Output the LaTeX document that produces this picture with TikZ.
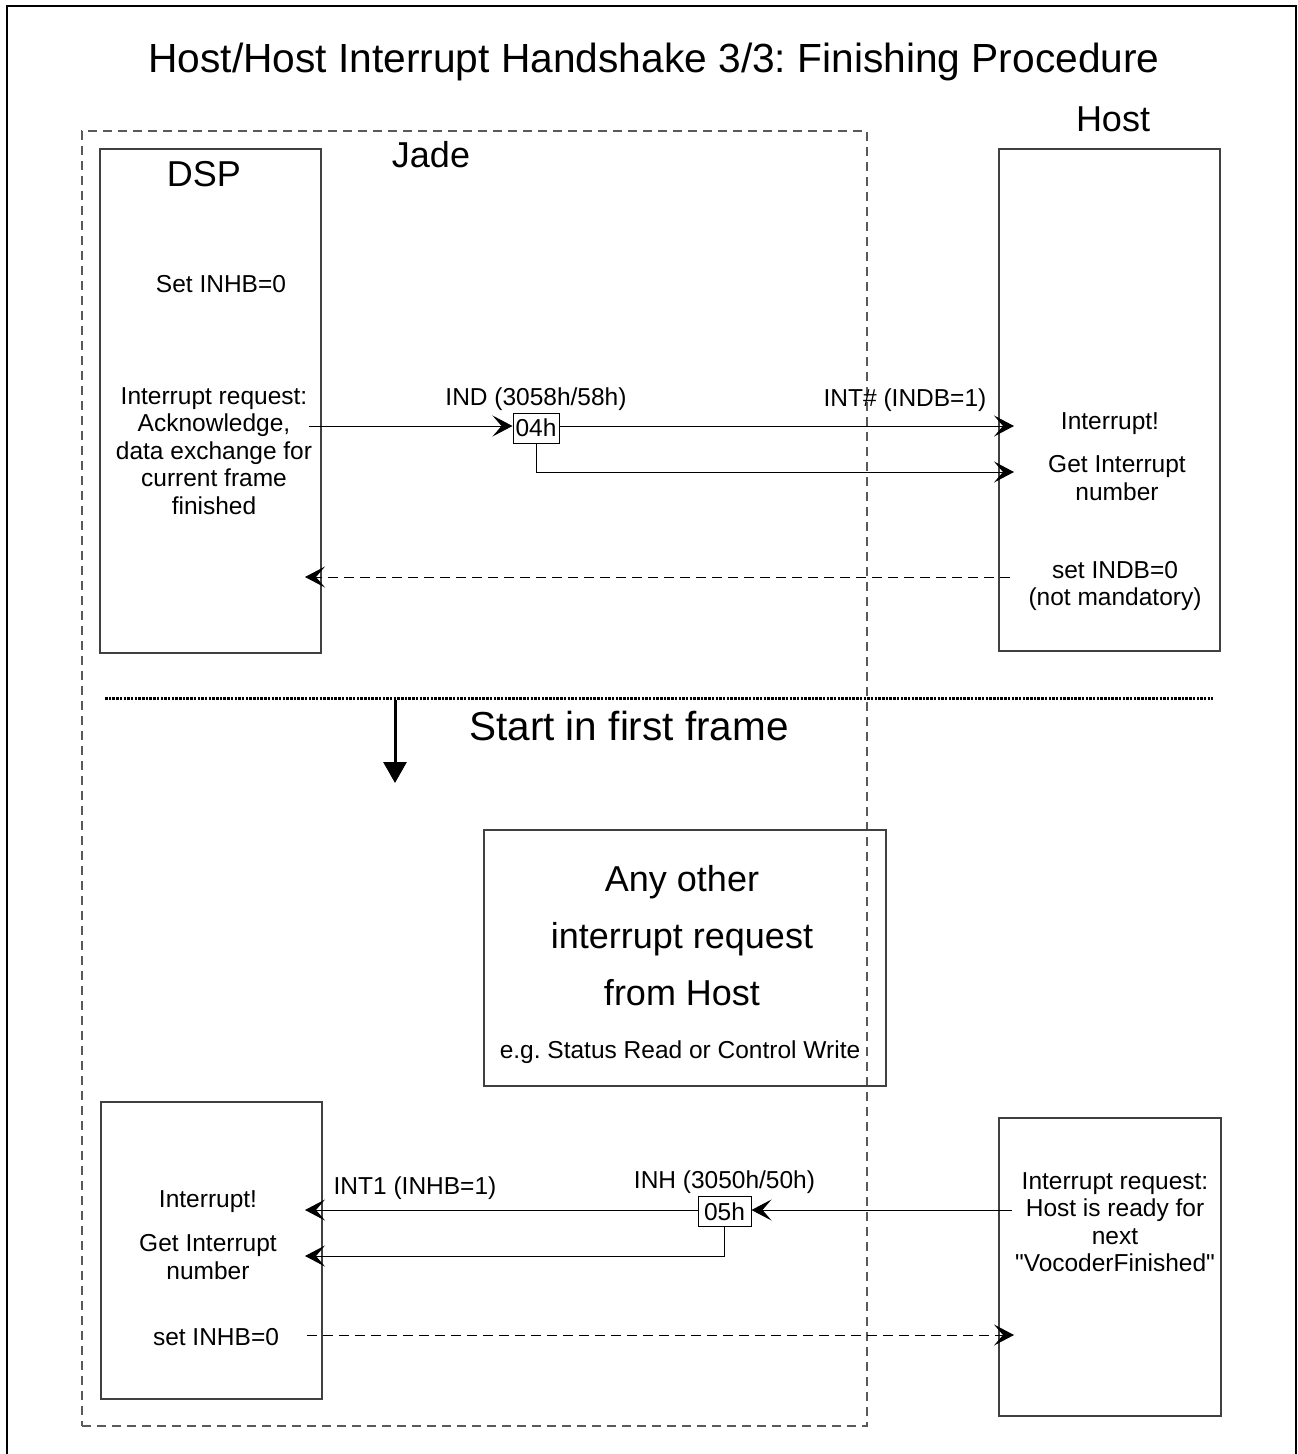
\documentclass[tikz,border=0pt]{standalone}
\usepackage{fontspec}
\setmainfont{Liberation Sans}
\newfontfamily\rawfont{Liberation Sans}
\usetikzlibrary{arrows.meta, positioning, calc}
\frenchspacing

\begin{document}
\begin{tikzpicture}[x=1pt, y=-1pt,
    unit/.style={draw=black!75, line width=1.3pt, inner sep=0pt},
    lbl/.style={font=\fontsize{24.5}{27.5}\selectfont, align=center, inner sep=0pt},
    big/.style={font=\fontsize{36}{40}\selectfont, inner sep=0pt},
    vec/.style={draw, line width=1pt, inner sep=0pt, minimum width=46pt,
                minimum height=30pt, font=\fontsize{24.5}{27.5}\selectfont},
    msg/.style={-{Stealth[length=20pt, width=21pt, inset=9pt]}, line width=1pt},
    reply/.style={msg, dash pattern=on 10pt off 6pt},
  ]
    \useasboundingbox (0,0) rectangle (1298,1454);
    \draw[line width=2.5pt] (7,1460) -- (7,6) -- (1296,6) -- (1296,1460);

    \node[font=\fontsize{40.7}{44}\selectfont, inner sep=0pt] (title) at (654,62)
      {Host/Host Interrupt Handshake 3/3: Finishing Procedure};

    % blocks
    \node[draw=black!65, line width=1.2pt, dash pattern=on 9pt off 6pt,
          minimum width=785pt, minimum height=1295pt] (jade) at (474.5,778.5) {};
    \node[unit, minimum width=221pt, minimum height=504pt] (dspA)  at (210.5,401)  {};
    \node[unit, minimum width=221pt, minimum height=502pt] (hostA) at (1109.5,400) {};
    \node[unit, minimum width=402pt, minimum height=256pt] (other) at (685,958)    {};
    \node[unit, minimum width=221pt, minimum height=297pt] (dspB)  at (211.5,1250.5) {};
    \node[unit, minimum width=222pt, minimum height=298pt] (hostB) at (1110,1267)  {};

    \node[big] (hostT) at (1113,119) {Host};
    \node[big] (jadeT) at (431,155)  {Jade};
    \node[big] (dspT)  at (204,174)  {DSP};

    % first frame
    \node[lbl] (inhb)  at (221,284) {Set INHB=0};
    \node[lbl] (ackn)  at (214,451) {Interrupt request:\\Acknowledge,\\data exchange for\\current frame\\finished};
    \node[lbl] (intA)  at (1110,424) {Interrupt!};
    \node[lbl] (numA)  at (1117,478) {Get Interrupt\\number};
    \node[lbl] (indb)  at (1115,586) {set INDB=0\\(not mandatory)};
    \node[vec] (v04) at (536,428) {04h};
    \node[lbl, above=2pt of v04] (ind) {IND (3058h/58h)};
    \node[lbl] (intsh) at (905,400) {INT\# (INDB=1)};

    \coordinate (a1) at (309,426);
    \coordinate (a2) at (1014,426);
    \coordinate (a3) at (1014,472);
    \coordinate (r1) at (1010,577);
    \coordinate (r2) at (305,577);
    \draw[msg] (a1) -- (a1 -| v04.west);
    \draw[msg] (a1 -| v04.east) -- (a2);
    \draw[msg] (v04.south) |- (a3);
    \draw[reply] (r1) -- (r2);

    % divider
    \coordinate (d1) at (105,698);
    \coordinate (d2) at (1213,698);
    \draw[line width=3pt, dash pattern=on 2.5pt off 1.2pt] (d1) -- (d2);
    \coordinate (s1) at (395,700);
    \coordinate (s2) at (395,783);
    \draw[-{Triangle[length=21pt, width=23pt]}, line width=3pt] (s1) -- (s2);
    \node[font=\fontsize{40.5}{44}\selectfont, inner sep=0pt] (start) at (629,726) {Start in first frame};

    \node[font=\fontsize{36}{57}\selectfont, align=center, inner sep=0pt] (anyT) at (682,936)
      {Any other\\interrupt request\\from Host};
    \node[lbl] (eg) at (680,1052) {e.g. Status Read or Control Write};

    % next frame
    \node[lbl] (intB)  at (208,1202) {Interrupt!};
    \node[lbl] (numB)  at (208,1257) {Get Interrupt\\number};
    \node[lbl] (inhbB) at (216,1337) {set INHB=0};
    \node[lbl] (ready) at (1115,1222) {Interrupt request:\\Host is ready for\\next\\{\rawfont"VocoderFinished"}};
    \node[vec, minimum width=53pt] (v05) at (724.5,1211.5) {05h};
    \node[lbl, above=2pt of v05] (inh) {INH (3050h/50h)};
    \node[lbl] (int1) at (415,1188) {INT1 (INHB=1)};

    \coordinate (b1) at (1012,1210);
    \coordinate (b2) at (305,1210);
    \coordinate (b3) at (305,1256);
    \coordinate (q1) at (307,1335);
    \coordinate (q2) at (1014,1335);
    \draw[msg] (b1) -- (b1 -| v05.east);
    \draw[msg] (b1 -| v05.west) -- (b2);
    \draw[msg] (v05.south) |- (b3);
    \draw[reply] (q1) -- (q2);
  \end{tikzpicture}
\end{document}
